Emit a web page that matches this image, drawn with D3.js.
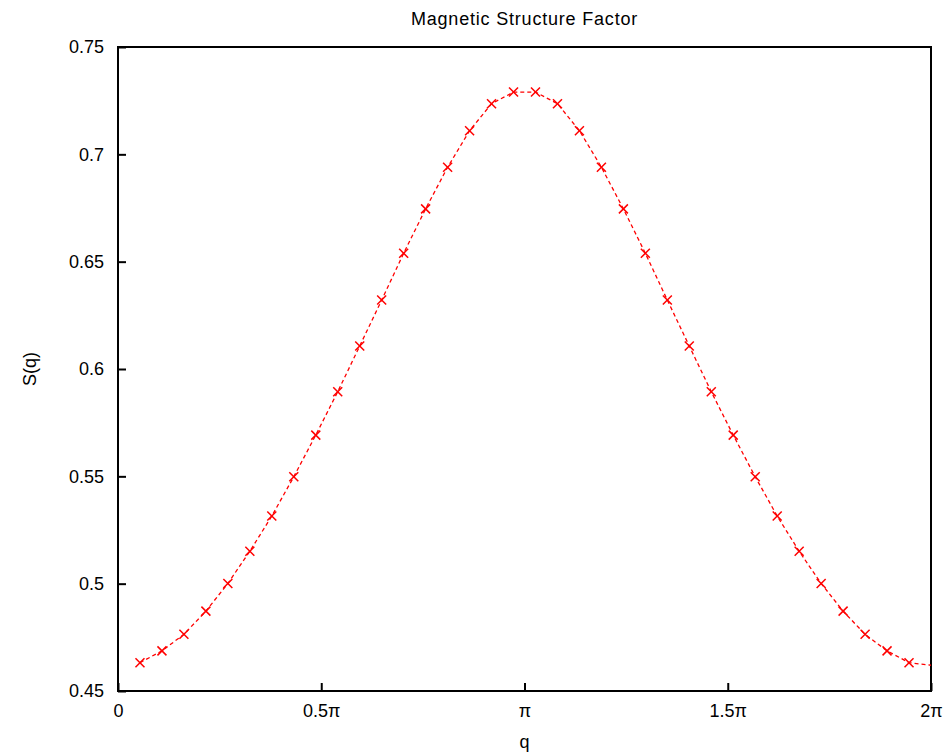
<!DOCTYPE html>
<html>
<head>
<meta charset="utf-8">
<script src="https://cdn.jsdelivr.net/npm/d3@7"></script>
<style>
body { margin: 0; background: #fff; }
text { font-family: "Liberation Sans", Arial, sans-serif; fill: #000; }
.frame { fill: none; stroke: #000; stroke-width: 2; }
.curve { fill: none; stroke: #ff0000; stroke-width: 1.3; stroke-dasharray: 4,3; }
.mark { stroke: #ff0000; stroke-width: 1.5; }
</style>
</head>
<body>
<script>
var w = 948;
var h = 755;
var padLeft = 118, padRight = 931, padTop = 47, padBottom = 691;

// site index k of a 37-site chain, q = 2*pi*k/37
var sites = d3.range(1, 38);
var values = [0.4632, 0.4687, 0.4764, 0.4872, 0.5001, 0.5151, 0.5315, 0.5498,
    0.5692, 0.5894, 0.6107, 0.6321, 0.6539, 0.6746, 0.6940, 0.7110, 0.7236, 0.7290,
    0.7290, 0.7236, 0.7110, 0.6940, 0.6746, 0.6539, 0.6321, 0.6107, 0.5894, 0.5692,
    0.5498, 0.5315, 0.5151, 0.5001, 0.4872, 0.4764, 0.4687, 0.4632, 0.4620];
var xTicks = [0, 0.5, 1, 1.5, 2];
var xTickLabels = ["0", "0.5\u03c0", "\u03c0", "1.5\u03c0", "2\u03c0"];
var yTicks = [0.45, 0.5, 0.55, 0.6, 0.65, 0.7, 0.75];
var yTickLabels = ["0.45", "0.5", "0.55", "0.6", "0.65", "0.7", "0.75"];

var dataset = sites.map(function(k, i){
    return { q: 2 * k / 37, s: values[i] };   // q in units of pi
});

var svg = d3.select("body")
    .append("svg")
    .attr("width", w)
    .attr("height", h);

var xScale = d3.scaleLinear().domain([0, 2]).range([padLeft, padRight]);
var yScale = d3.scaleLinear().domain([0.45, 0.75]).range([padBottom, padTop]);

var xAxis = d3.axisBottom(xScale)
    .tickValues(xTicks)
    .tickSize(-8)
    .tickPadding(13)
    .tickFormat(function(d, i){ return xTickLabels[i]; });

var yAxis = d3.axisLeft(yScale)
    .tickValues(yTicks)
    .tickSize(-8)
    .tickPadding(14)
    .tickFormat(function(d, i){ return yTickLabels[i]; });

var gx = svg.append("g")
    .attr("transform", "translate(0," + padBottom + ")")
    .call(xAxis);
var gy = svg.append("g")
    .attr("transform", "translate(" + padLeft + ",0)")
    .call(yAxis);

[gx, gy].forEach(function(g){
    g.select(".domain").remove();
    g.selectAll(".tick line").attr("stroke", "#000").attr("stroke-width", 2);
    g.selectAll(".tick text").style("font-size", "18px")
        .style("font-family", "'Liberation Sans', Arial, sans-serif");
});

svg.append("rect")
    .attr("class", "frame")
    .attr("x", padLeft)
    .attr("y", padTop)
    .attr("width", padRight - padLeft)
    .attr("height", padBottom - padTop);

svg.append("path")
    .datum(dataset)
    .attr("class", "curve")
    .attr("d", d3.line()
        .x(function(d){ return xScale(d.q); })
        .y(function(d){ return yScale(d.s); }));

// crosses (the point sitting on the right border is not marked)
var r = 4.5;
var marks = svg.append("g").selectAll("g")
    .data(dataset.slice(0, 36))
    .enter().append("g")
    .attr("transform", function(d){ return "translate(" + xScale(d.q) + "," + yScale(d.s) + ")"; });
marks.append("line").attr("class", "mark").attr("x1", -r).attr("y1", -r).attr("x2", r).attr("y2", r);
marks.append("line").attr("class", "mark").attr("x1", -r).attr("y1", r).attr("x2", r).attr("y2", -r);

svg.append("text")
    .attr("x", (padLeft + padRight) / 2)
    .attr("y", 25)
    .attr("text-anchor", "middle")
    .style("font-size", "18px")
    .style("letter-spacing", "0.8px")
    .text("Magnetic Structure Factor");

svg.append("text")
    .attr("x", (padLeft + padRight) / 2)
    .attr("y", 748)
    .attr("text-anchor", "middle")
    .style("font-size", "18px")
    .text("q");

svg.append("text")
    .attr("transform", "translate(36," + (padTop + padBottom) / 2 + ") rotate(-90)")
    .attr("text-anchor", "middle")
    .style("font-size", "18px")
    .text("S(q)");
</script>
</body>
</html>
